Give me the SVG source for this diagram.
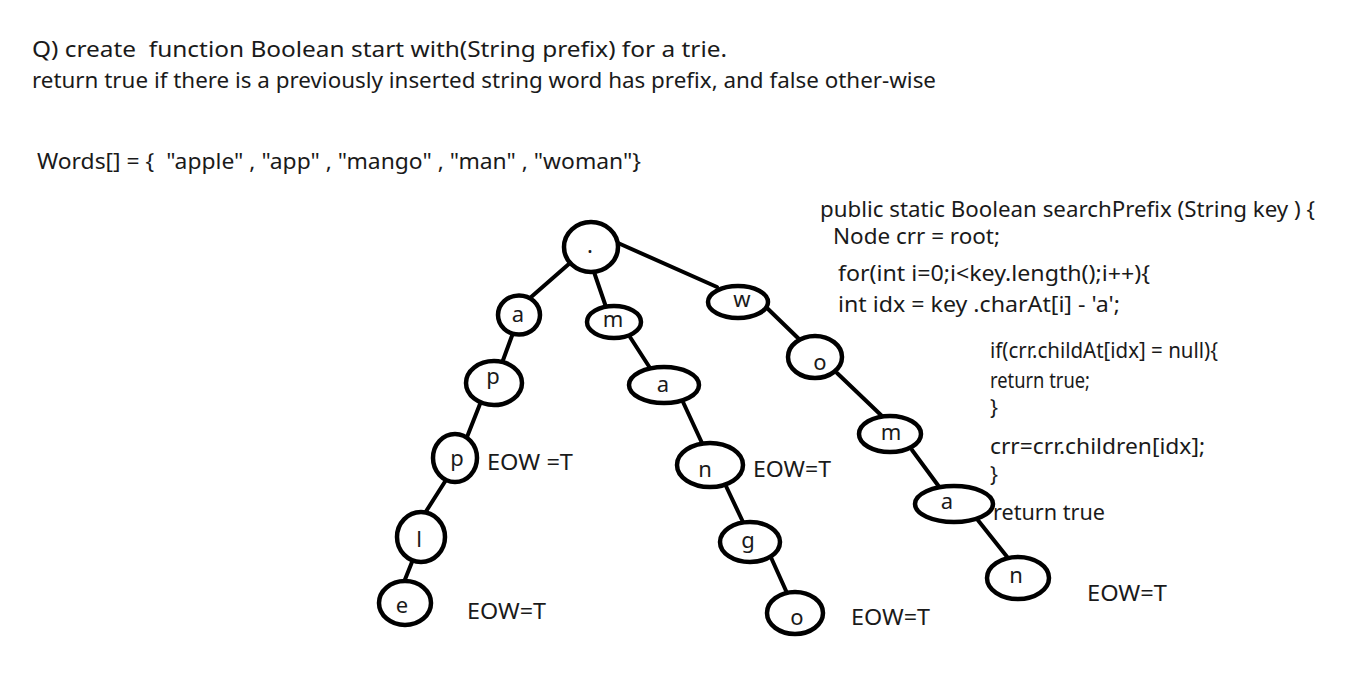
<svg xmlns="http://www.w3.org/2000/svg" width="1358" height="677" viewBox="0 0 1358 677">
<style>
text{font-family:"Noto Sans","Open Sans","DejaVu Sans",sans-serif;font-size:22px;fill:#1a1a1a}
.pre{white-space:pre}
.c2{font-size:21px}
.n ellipse{fill:#fff;stroke:#000;stroke-width:4.5}
.n text{text-anchor:middle;font-size:22px}
#edges line{stroke:#000;stroke-width:4;stroke-linecap:round}
</style>
<rect width="1358" height="677" fill="#fff"/>
<g id="header">
<text class="pre" x="32" y="57" textLength="695" lengthAdjust="spacingAndGlyphs">Q) create  function Boolean start with(String prefix) for a trie.</text>
<text x="32" y="88" textLength="904" lengthAdjust="spacingAndGlyphs">return true if there is a previously inserted string word has prefix, and false other-wise</text>
<text class="pre" x="37" y="169" textLength="604" lengthAdjust="spacingAndGlyphs">Words[] = {  "apple" , "app" , "mango" , "man" , "woman"}</text>
</g>
<g id="code">
<text x="820" y="217" textLength="495" lengthAdjust="spacingAndGlyphs">public static Boolean searchPrefix (String key ) {</text>
<text x="833" y="244" textLength="167" lengthAdjust="spacingAndGlyphs">Node crr = root;</text>
<text x="838" y="281" textLength="312" lengthAdjust="spacingAndGlyphs">for(int i=0;i&lt;key.length();i++){</text>
<text x="838" y="312" textLength="282" lengthAdjust="spacingAndGlyphs">int idx = key .charAt[i] - 'a';</text>
<text class="c2" x="990" y="358" textLength="228" lengthAdjust="spacingAndGlyphs">if(crr.childAt[idx] = null){</text>
<text class="c2" x="990" y="388" textLength="100" lengthAdjust="spacingAndGlyphs">return true;</text>
<text class="c2" x="990" y="415">}</text>
<text class="c2" x="990" y="454" textLength="215" lengthAdjust="spacingAndGlyphs">crr=crr.children[idx];</text>
<text class="c2" x="990" y="482">}</text>
<text class="c2" x="993" y="520" textLength="112" lengthAdjust="spacingAndGlyphs">return true</text>
</g>
<g id="edges">
<line x1="570" y1="263" x2="530" y2="298"/>
<line x1="594" y1="272" x2="606" y2="307"/>
<line x1="618" y1="243" x2="717" y2="287"/>
<line x1="513" y1="333" x2="502" y2="363"/>
<line x1="480" y1="404" x2="467" y2="437"/>
<line x1="446" y1="480" x2="425" y2="513"/>
<line x1="412" y1="562" x2="404" y2="582"/>
<line x1="630" y1="337" x2="650" y2="368"/>
<line x1="683" y1="402" x2="702" y2="443"/>
<line x1="725" y1="484" x2="743" y2="522"/>
<line x1="769" y1="553" x2="787" y2="593"/>
<line x1="767" y1="308" x2="800" y2="340"/>
<line x1="837" y1="373" x2="883" y2="417"/>
<line x1="912" y1="450" x2="940" y2="488"/>
<line x1="977" y1="519" x2="1008" y2="558"/>
</g>
<g id="node-root" class="n"><ellipse cx="591" cy="247" rx="27" ry="25"/><text x="590" y="253">.</text></g>
<g id="node-a1" class="n"><ellipse cx="519" cy="315" rx="21" ry="19.5"/><text x="518" y="322">a</text></g>
<g id="node-m1" class="n"><ellipse cx="614" cy="322" rx="27" ry="16"/><text x="613" y="327">m</text></g>
<g id="node-w" class="n"><ellipse cx="738" cy="302" rx="30" ry="16"/><text x="742" y="307">w</text></g>
<g id="node-p1" class="n"><ellipse cx="494" cy="383" rx="28" ry="22"/><text x="493" y="384">p</text></g>
<g id="node-a2" class="n"><ellipse cx="664" cy="385" rx="35" ry="18"/><text x="663" y="392">a</text></g>
<g id="node-o1" class="n"><ellipse cx="815" cy="357" rx="27" ry="21"/><text x="820" y="370">o</text></g>
<g id="node-p2" class="n"><ellipse cx="455" cy="458" rx="22" ry="24"/><text x="457" y="466">p</text></g>
<g id="node-n1" class="n"><ellipse cx="710" cy="465" rx="33" ry="22"/><text x="705" y="477">n</text></g>
<g id="node-m2" class="n"><ellipse cx="890" cy="434" rx="31" ry="18"/><text x="891" y="440">m</text></g>
<g id="node-l" class="n"><ellipse cx="421" cy="537" rx="24" ry="25"/><text x="419" y="547">l</text></g>
<g id="node-g" class="n"><ellipse cx="750" cy="542" rx="30" ry="20"/><text x="748" y="548">g</text></g>
<g id="node-a3" class="n"><ellipse cx="954" cy="504" rx="39" ry="18"/><text x="947" y="509">a</text></g>
<g id="node-e" class="n"><ellipse cx="405" cy="603" rx="26" ry="22"/><text x="402" y="613">e</text></g>
<g id="node-o2" class="n"><ellipse cx="795" cy="613" rx="28" ry="21"/><text x="797" y="625">o</text></g>
<g id="node-n2" class="n"><ellipse cx="1018" cy="578" rx="31" ry="21"/><text x="1016" y="583">n</text></g>
<g id="labels">
<text class="pre" x="487" y="470" textLength="86" lengthAdjust="spacingAndGlyphs">EOW =T</text>
<text x="467" y="619" textLength="79" lengthAdjust="spacingAndGlyphs">EOW=T</text>
<text x="753" y="477" textLength="78" lengthAdjust="spacingAndGlyphs">EOW=T</text>
<text x="851" y="625" textLength="79" lengthAdjust="spacingAndGlyphs">EOW=T</text>
<text x="1087" y="601" textLength="80" lengthAdjust="spacingAndGlyphs">EOW=T</text>
</g>
</svg>
